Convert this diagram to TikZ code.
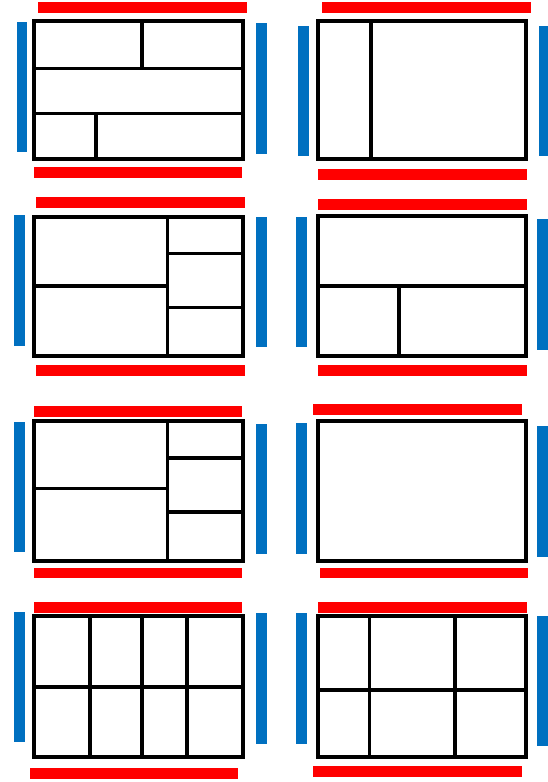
\documentclass[tikz,border=0pt]{standalone}
\begin{document}
\begin{tikzpicture}[x=1pt,y=-1pt,
  frame/.style={draw=black,line width=4pt,line cap=rect},
  inner/.style={draw=black,line width=3.6pt},
  redbar/.style={fill={rgb,255:red,255;green,0;blue,0}},
  bluebar/.style={fill={rgb,255:red,0;green,112;blue,192}}]
\useasboundingbox (0,0) rectangle (547,782);
% ---------- Panel 1 ----------
\fill[redbar] (38,2) rectangle (247,12.7);
\fill[redbar] (34,167) rectangle (242,178);
\fill[bluebar] (16.7,21.7) rectangle (27.3,152.3);
\fill[bluebar] (255.7,23.3) rectangle (266.5,154);
\draw[inner] (33.7,68.3) -- (243,68.3);
\draw[inner] (33.7,113.3) -- (243,113.3);
\draw[inner] (141.7,21) -- (141.7,68.3);
\draw[inner] (96,113.3) -- (96,158.7);
\draw[frame] (33.7,21) rectangle (243,158.7);
% ---------- Panel 2 ----------
\fill[redbar] (322.3,2) rectangle (530.7,12.7);
\fill[redbar] (317.7,169.3) rectangle (526.7,180);
\fill[bluebar] (298.3,26) rectangle (309.3,156);
\fill[bluebar] (539.3,26) rectangle (550,156);
\draw[inner] (371,21) -- (371,158.7);
\draw[frame] (317.7,21) rectangle (526.3,158.7);
% ---------- Panel 3 ----------
\fill[redbar] (36,197.3) rectangle (245,208.3);
\fill[redbar] (36,365) rectangle (245,376);
\fill[bluebar] (14.3,215) rectangle (25,345.7);
\fill[bluebar] (255.7,217.3) rectangle (266.5,347.3);
\draw[inner] (167.3,217) -- (167.3,356.3);
\draw[inner] (33.7,285.7) -- (167.3,285.7);
\draw[inner] (167.3,253.3) -- (243,253.3);
\draw[inner] (167.3,307.3) -- (243,307.3);
\draw[frame] (33.7,217) rectangle (243,356.3);
% ---------- Panel 4 ----------
\fill[redbar] (317.7,199.3) rectangle (526.7,210);
\fill[redbar] (317.7,365) rectangle (526.7,376);
\fill[bluebar] (296,217.3) rectangle (307.3,347.3);
\fill[bluebar] (536.7,219.3) rectangle (550,350);
\draw[inner] (317.7,285.7) -- (526.3,285.7);
\draw[inner] (399,285.7) -- (399,356.3);
\draw[frame] (317.7,216.3) rectangle (526.3,356.3);
% ---------- Panel 5 ----------
\fill[redbar] (34,405.7) rectangle (242.3,417.3);
\fill[redbar] (34,567.7) rectangle (242.3,578.3);
\fill[bluebar] (14.3,421.7) rectangle (25,552.3);
\fill[bluebar] (255.7,424) rectangle (266.5,554.3);
\draw[inner] (167.3,421) -- (167.3,561.3);
\draw[inner] (33.7,488.3) -- (167.3,488.3);
\draw[inner] (167.3,457.7) -- (243,457.7);
\draw[inner] (167.3,511.7) -- (243,511.7);
\draw[frame] (33.7,421) rectangle (243,561.3);
% ---------- Panel 6 ----------
\fill[redbar] (313.3,404) rectangle (521.7,415);
\fill[redbar] (320,567.7) rectangle (528.3,578.3);
\fill[bluebar] (296,423.3) rectangle (307.3,554.3);
\fill[bluebar] (536.7,425.7) rectangle (550,556.7);
\draw[frame] (317.7,421.3) rectangle (526.3,561.3);
% ---------- Panel 7 ----------
\fill[redbar] (34,602.3) rectangle (242.3,613.3);
\fill[redbar] (30,767.7) rectangle (238.3,779);
\fill[bluebar] (14.3,611.7) rectangle (25,742.3);
\fill[bluebar] (255.7,613.3) rectangle (266.5,744);
\draw[inner] (33.7,686.7) -- (243,686.7);
\draw[inner] (90,616.3) -- (90,757);
\draw[inner] (141.7,616.3) -- (141.7,757);
\draw[inner] (186.7,616.3) -- (186.7,757);
\draw[frame] (33.7,616.3) rectangle (243,757);
% ---------- Panel 8 ----------
\fill[redbar] (317.7,601.7) rectangle (526.7,612.7);
\fill[redbar] (313.3,765.7) rectangle (522.3,776.7);
\fill[bluebar] (296,612.7) rectangle (307.3,744);
\fill[bluebar] (536.7,616) rectangle (550,745.7);
\draw[inner] (317.7,690) -- (526.3,690);
\draw[inner] (369.3,616.3) -- (369.3,757);
\draw[inner] (455,616.3) -- (455,757);
\draw[frame] (317.7,616.3) rectangle (526.3,757);
\end{tikzpicture}
\end{document}
